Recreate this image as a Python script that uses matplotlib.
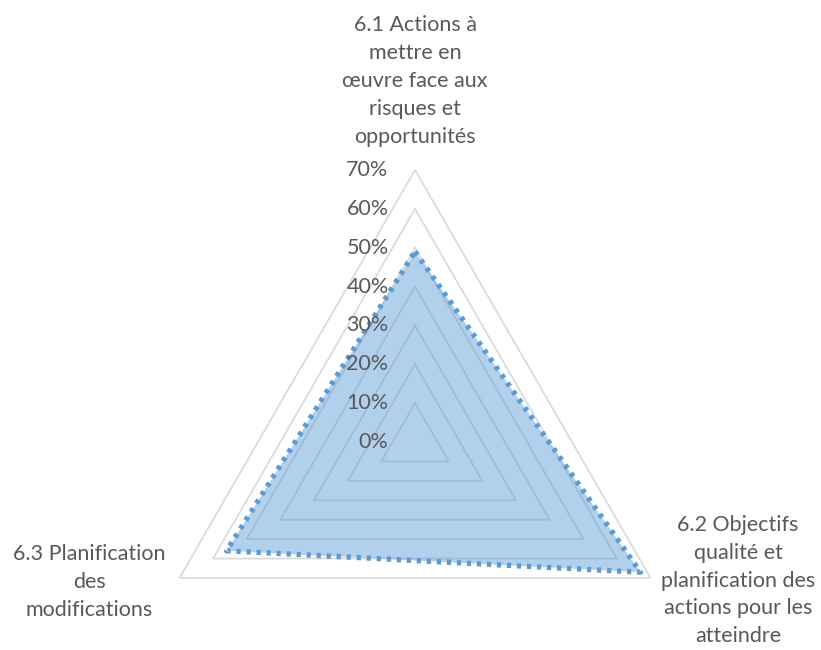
import numpy as np
import matplotlib
matplotlib.use("Agg")
import matplotlib.pyplot as plt

# chart data
categories = [
    "6.1 Actions à\nmettre en\nœuvre face aux\nrisques et\nopportunités",
    "6.2 Objectifs\nqualité et\nplanification des\nactions pour les\natteindre",
    "6.3 Planification\ndes\nmodifications",
]
values = [0.49, 0.67, 0.56]
rings = [0.0, 0.1, 0.2, 0.3, 0.4, 0.5, 0.6, 0.7]
ring_labels = ["0%", "10%", "20%", "30%", "40%", "50%", "60%", "70%"]

plt.rcParams['font.family'] = ['Lato', 'DejaVu Sans']
text_col = '#595959'
fs = 15.5

fig = plt.figure(figsize=(8.21, 6.5), dpi=100)
W, H = 821, 650
cx, cy, R = 415, 442, 272
ax = fig.add_axes([(cx - R) / W, (H - cy - R) / H, 2 * R / W, 2 * R / H], projection='polar')
ax.set_theta_offset(np.pi / 2)
ax.set_theta_direction(-1)
ax.set_ylim(0, 0.7)
ax.grid(False)
ax.spines['polar'].set_visible(False)
ax.set_xticks([])
ax.set_yticks([])
ax.patch.set_alpha(0)

n = len(categories)
theta = np.arange(n) * 2 * np.pi / n
theta_closed = np.append(theta, theta[0])

# polygon grid
for r in rings[1:]:
    ax.plot(theta_closed, [r] * (n + 1), color='#D9D9D9', lw=1.2, zorder=1)

# data series
vals_closed = values + values[:1]
ax.fill(theta_closed, vals_closed, color='#5B9BD5', alpha=0.47, lw=0, zorder=2)
ax.plot(theta_closed, vals_closed, color='#5B9BD5', lw=3.8,
        linestyle=(0, (0.8, 1.1)), dash_capstyle='butt', zorder=3)

# radial tick labels
for r, lab in zip(rings, ring_labels):
    ax.annotate(lab, (0, r), xytext=(-19, 0), textcoords='offset points',
                ha='right', va='center', fontsize=fs, color=text_col,
                annotation_clip=False, zorder=4)

# category labels
ax.annotate(categories[0], (0, 0.7), xytext=(0, 64), textcoords='offset points',
            ha='center', va='center', fontsize=fs, color=text_col,
            linespacing=1.5, annotation_clip=False)
ax.annotate(categories[1], (theta[1], 0.7), xytext=(63, -2), textcoords='offset points',
            ha='center', va='center', fontsize=fs, color=text_col,
            linespacing=1.48, annotation_clip=False)
ax.annotate(categories[2], (theta[2], 0.7), xytext=(-65, -3), textcoords='offset points',
            ha='center', va='center', fontsize=fs, color=text_col,
            linespacing=1.48, annotation_clip=False)

fig.savefig('out.png', dpi=100)
